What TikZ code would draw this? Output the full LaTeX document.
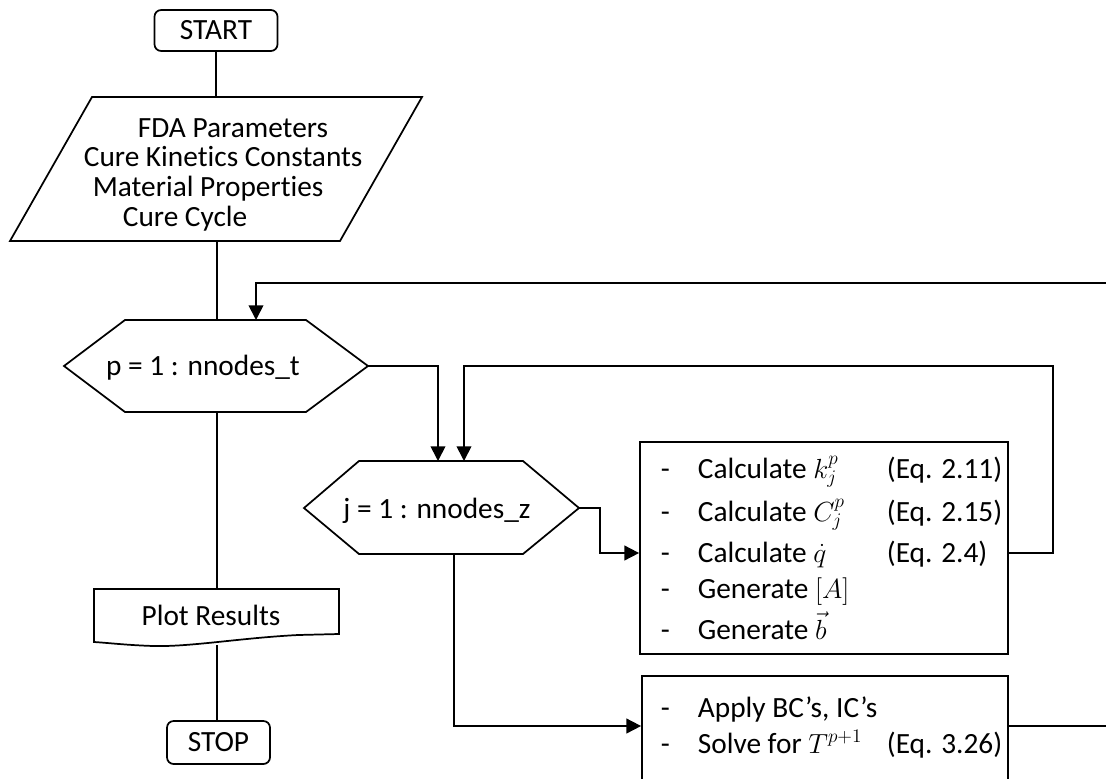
\documentclass[tikz,border=0pt]{standalone}
\usepackage{fontspec}
\setmainfont{Carlito}[Ligatures={NoCommon}]
\usetikzlibrary{arrows.meta}
\begin{document}
\begin{tikzpicture}[x=0.75pt,y=-0.75pt,line width=1.3pt,
  txt/.style={font=\fontsize{22}{26}\selectfont, inner sep=0pt},
  arr/.style={-{Triangle[length=11pt,width=11pt]}},
  shp/.style={line width=1.3pt, line join=miter}]
\clip (0,0) rectangle (1106,778);
% START
\node[draw, rounded corners=5pt, minimum width=92.25pt, minimum height=30.75pt, txt] (start) at (216,30.5) {START};
% input parallelogram
\draw[shp] (92,97) coordinate (inTL) -- (422,97) coordinate (inTR) -- (340,241) coordinate (inBR) -- (10,241) coordinate (inBL) -- cycle;
\coordinate (inT) at (217,97);
\coordinate (inB) at (217,241);
\node[txt, anchor=base west] (in1) at (137,137) {FDA Parameters};
\node[txt, anchor=base west] (in2) at (83,166) {Cure Kinetics Constants};
\node[txt, anchor=base west] (in3) at (92,196) {Material Properties};
\node[txt, anchor=base west] (in4) at (122,226) {Cure Cycle};
% p hexagon
\draw[shp] (64,366) coordinate (pL) -- (125,320) coordinate (pTL) -- (306,320) coordinate (pTR) -- (368,366) coordinate (pR) -- (306,412) coordinate (pBR) -- (125,412) coordinate (pBL) -- cycle;
\coordinate (pT) at (217,320);
\coordinate (pB) at (217,412);
\coordinate (pLoop) at (256,320);
\node[txt, anchor=base] (ptxt) at (203,375) {p = 1 : nnodes\_t};
% j hexagon
\draw[shp] (304,508) coordinate (jL) -- (359,461) coordinate (jTL) -- (523,461) coordinate (jTR) -- (579,508) coordinate (jR) -- (523,554) coordinate (jBR) -- (359,554) coordinate (jBL) -- cycle;
\coordinate (jIn1) at (438,461);
\coordinate (jIn2) at (464,461);
\coordinate (jB) at (454,554);
\node[txt, anchor=base] (jtxt) at (437,518) {j = 1 : nnodes\_z};
% Plot results
\draw[shp] (94,589) coordinate (plTL) -- (339,589) coordinate (plTR) -- (339,634) -- (298,635)
  .. controls (240,638) and (190,647) .. (153,646)
  .. controls (125,645) and (110,643) .. (94,642) -- cycle;
\coordinate (plT) at (217,589);
\coordinate (plB) at (217,645);
\node[txt, anchor=base] (pltxt) at (211,625) {Plot Results};
% STOP
\node[draw, rounded corners=5pt, minimum width=77.25pt, minimum height=32.25pt, txt] (stop) at (218.5,742.5) {STOP};
% box 1
\node[draw, minimum width=276pt, minimum height=159pt, inner sep=0pt] (box1) at (824,548) {};
\foreach \yy in {478,521,562,598,639}{\node[txt, anchor=base west] at (660,\yy) {-};}
\node[txt, anchor=base west] (b11) at (697,478) {Calculate $k_j^p$};
\node[txt, anchor=base west] (b12) at (697,521) {Calculate $C_j^p$};
\node[txt, anchor=base west] (b13) at (697,562) {Calculate $\dot q$};
\node[txt, anchor=base west] (b14) at (697,598) {Generate $[A]$};
\node[txt, anchor=base west] (b15) at (697,639) {Generate $\vec b$};
\node[txt, anchor=base west] (e11) at (886,478) {(Eq. 2.11)};
\node[txt, anchor=base west] (e12) at (886,521) {(Eq. 2.15)};
\node[txt, anchor=base west] (e13) at (886,562) {(Eq. 2.4)};
% box 2
\node[draw, minimum width=274.5pt, minimum height=93pt, inner sep=0pt] (box2) at (825,738) {};
\foreach \yy in {717,753}{\node[txt, anchor=base west] at (660,\yy) {-};}
\node[txt, anchor=base west] (b21) at (697,717) {Apply BC’s, IC’s};
\node[txt, anchor=base west] (b22) at (697,753) {Solve for $T^{p+1}$};
\node[txt, anchor=base west] (e22) at (886,753) {(Eq. 3.26)};
% connectors
\draw (start.south) -- (start.south |- inT);
\draw (inB) -- (pT);
\draw (pB) -- (plT);
\draw (plB) -- (plB |- stop.north);
\draw[arr] (pR) -| (jIn1);
\draw[arr] (box1.east |- 0,553) -- (1053,553) -- (1053,366) -| (jIn2);
\draw[arr] (jR) -- (600,508) |- (box1.west |- 0,553);
\draw[arr] (jB) |- (box2.west |- 0,726);
\draw[arr] (box2.east |- 0,726) -- (1130,726) -- (1130,283) -| (pLoop);
\end{tikzpicture}
\end{document}
